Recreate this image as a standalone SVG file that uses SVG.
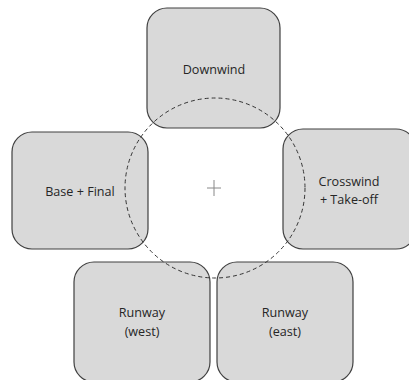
<svg xmlns="http://www.w3.org/2000/svg" width="409" height="380" viewBox="0 0 409 380">
<style>
.box{fill:#d9d9d9;stroke:#404040;stroke-width:1.2}
.lbl{font-family:"Open Sans","Liberation Sans",sans-serif;font-size:12.6px;fill:#262626;text-anchor:middle}
.ring{fill:none;stroke:#333;stroke-width:1;stroke-dasharray:4 3}
.plus{stroke:#888;stroke-width:1}
</style>
<rect width="409" height="380" fill="#fff"/>
<g id="downwind"><rect class="box" x="147" y="8" width="133" height="120" rx="20"/><text class="lbl" x="214" y="74">Downwind</text></g>
<g id="base-final"><rect class="box" x="12" y="132" width="136" height="117" rx="20"/><text class="lbl" x="80" y="196">Base + Final</text></g>
<g id="crosswind"><rect class="box" x="283" y="129" width="133" height="120" rx="20"/><text class="lbl" x="349" y="186">Crosswind</text><text class="lbl" x="349" y="204">+ Take-off</text></g>
<g id="runway-west"><rect class="box" x="74" y="262" width="136" height="120" rx="20"/><text class="lbl" x="142" y="317">Runway</text><text class="lbl" x="142" y="336">(west)</text></g>
<g id="runway-east"><rect class="box" x="217" y="262" width="136" height="120" rx="20"/><text class="lbl" x="285" y="317">Runway</text><text class="lbl" x="285" y="336">(east)</text></g>
<g id="connectors">
<circle class="ring" cx="215" cy="188" r="90"/>
<line class="plus" x1="207" y1="188" x2="221" y2="188"/>
<line class="plus" x1="214" y1="180" x2="214" y2="196"/>
</g>
</svg>
